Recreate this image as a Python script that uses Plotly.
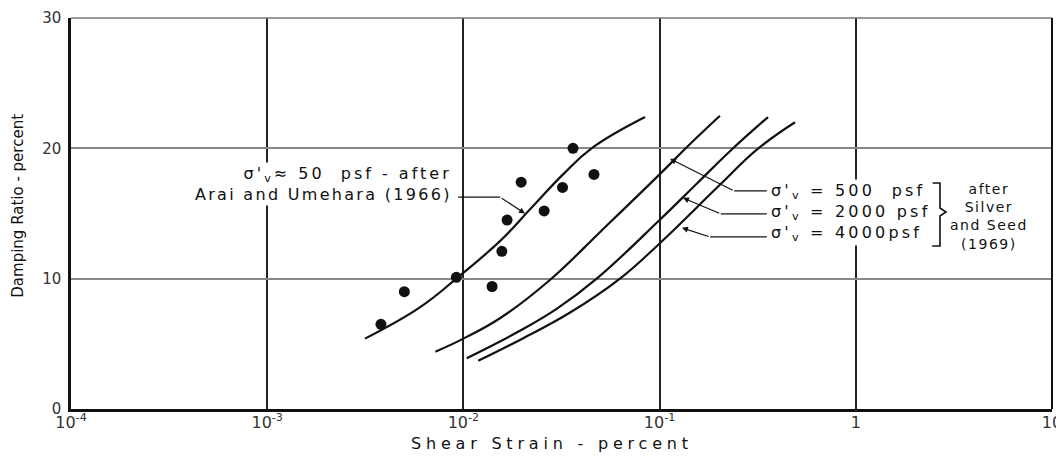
import numpy as np
import plotly.graph_objects as go

# Arai and Umehara (1966) test points, sigma'v ~ 50 psf
pts_strain = [0.0038, 0.0050, 0.0092, 0.0140, 0.0157, 0.0167, 0.0197, 0.0258, 0.0320, 0.0362, 0.0463]
pts_damping = [6.5, 9.0, 10.1, 9.4, 12.1, 14.5, 17.4, 15.2, 17.0, 20.0, 18.0]

# fitted curves
arai_strain = [0.00315, 0.0060, 0.0092, 0.0154, 0.0218, 0.0322, 0.045, 0.0843]
arai_damping = [5.4, 7.8, 10.0, 12.9, 15.3, 18.0, 20.0, 22.4]

s500_strain = [0.0072, 0.0100, 0.0155, 0.0276, 0.0507, 0.100, 0.140, 0.203]
s500_damping = [4.4, 5.4, 7.0, 9.9, 13.7, 18.0, 20.2, 22.5]

s2000_strain = [0.0104, 0.0194, 0.0300, 0.0478, 0.100, 0.155, 0.229, 0.357]
s2000_damping = [3.9, 6.0, 7.7, 10.0, 14.5, 17.3, 19.8, 22.4]

s4000_strain = [0.0119, 0.0194, 0.0350, 0.0628, 0.100, 0.203, 0.313, 0.490]
s4000_damping = [3.7, 5.3, 7.4, 10.0, 12.7, 17.2, 19.9, 22.0]

x_ticks = [1e-4, 1e-3, 1e-2, 1e-1, 1, 10]
x_ticktext = ["10<sup>-4</sup>", "10<sup>-3</sup>", "10<sup>-2</sup>", "10<sup>-1</sup>", "1", "10"]
y_ticks = [0, 10, 20, 30]

FONT = "DejaVu Sans"
INK = "#111111"


def spaced(txt, ls):
    return f'<span style="letter-spacing:{ls}px">{txt}</span>'


fig = go.Figure()

for xs, ys in [(arai_strain, arai_damping), (s500_strain, s500_damping),
               (s2000_strain, s2000_damping), (s4000_strain, s4000_damping)]:
    fig.add_trace(go.Scatter(x=xs, y=ys, mode="lines",
                             line=dict(color=INK, width=2.2, shape="spline", smoothing=1.2),
                             hoverinfo="skip", showlegend=False))

fig.add_trace(go.Scatter(x=pts_strain, y=pts_damping, mode="markers",
                         marker=dict(color=INK, size=11, symbol="circle"),
                         showlegend=False))

# leader lines: (text end, bend, arrow tip)
leaders = [
    ((0.0094, 16.25), (0.0154, 16.25), (0.0206, 15.0)),
    ((0.352, 16.73), (0.240, 16.73), (0.113, 19.2)),
    ((0.352, 14.97), (0.205, 14.97), (0.1315, 16.2)),
    ((0.352, 13.2), (0.181, 13.2), (0.130, 13.9)),
]
for start, bend, tip in leaders:
    fig.add_trace(go.Scatter(x=[start[0], bend[0]], y=[start[1], bend[1]], mode="lines",
                             line=dict(color=INK, width=1.2), hoverinfo="skip", showlegend=False))
    fig.add_annotation(x=np.log10(tip[0]), y=tip[1], ax=np.log10(bend[0]), ay=bend[1],
                       axref="x", ayref="y", xref="x", yref="y", text="", showarrow=True,
                       arrowhead=2, arrowsize=1, arrowwidth=1.2, arrowcolor=INK)

sig = "σ'<sub>v</sub>"
fig.add_annotation(x=np.log10(0.0090), y=17.23, xanchor="right", yanchor="middle", align="right",
                   text=spaced(f"{sig}≈ 50  psf - after", 3.0) + "<br>" + spaced("Arai and Umehara (1966)", 2.3),
                   showarrow=False, bgcolor="white", font=dict(family=FONT, size=16, color=INK))
fig.add_annotation(x=np.log10(0.36), y=15.08, xanchor="left", yanchor="middle", align="left",
                   text="<br>".join(spaced(t, 3.2) for t in
                                    [f"{sig} = 500  psf", f"{sig} = 2000 psf", f"{sig} = 4000psf"]),
                   showarrow=False, bgcolor="white", font=dict(family=FONT, size=16, color=INK))
fig.add_annotation(x=np.log10(4.8), y=14.75, xanchor="center", yanchor="middle", align="center",
                   text="<br>".join(spaced(t, 1.5) for t in ["after", "Silver", "and Seed", "(1969)"]),
                   showarrow=False, font=dict(family=FONT, size=14, color=INK))

# axis titles
fig.add_annotation(x=0.49, y=-0.0895, xref="paper", yref="paper", xanchor="center", yanchor="middle",
                   text=spaced("Shear Strain - percent", 4.8), showarrow=False,
                   font=dict(family=FONT, size=16, color=INK))
fig.add_annotation(x=-0.054, y=0.52, xref="paper", yref="paper", xanchor="center", yanchor="middle",
                   textangle=-90, text="Damping Ratio - percent", showarrow=False,
                   font=dict(family=FONT, size=15, color=INK))


def px(xp, yp):
    return (xp - 71) / 981, (409 - yp) / 391


# bracket
bx = [932, 940, 940, 946, 940, 940, 932]
by = [183, 183, 208, 212, 216, 246, 246]
path = "M " + " L ".join(f"{px(a, b)[0]:.4f} {px(a, b)[1]:.4f}" for a, b in zip(bx, by))
fig.add_shape(type="path", path=path, xref="paper", yref="paper",
              line=dict(color=INK, width=1.6))

# frame: top grey, right black
fig.add_shape(type="line", xref="paper", yref="paper", x0=0, x1=1, y0=1, y1=1,
              line=dict(color="#777777", width=1.6))
fig.add_shape(type="line", xref="paper", yref="paper", x0=1, x1=1, y0=0, y1=1,
              line=dict(color=INK, width=2))

fig.update_xaxes(type="log", range=[-4, 1], tickvals=x_ticks, ticktext=x_ticktext,
                 showgrid=True, gridcolor="#222222", gridwidth=1.5, automargin=False,
                 showline=True, linecolor=INK, linewidth=2.5, ticks="", ticklen=0,
                 ticklabelstandoff=-3,
                 zeroline=False, tickfont=dict(family=FONT, size=16, color="#333333"))
fig.update_yaxes(range=[0, 30], tickvals=y_ticks, showgrid=True, gridcolor="#888888",
                 gridwidth=1.5, showline=True, linecolor=INK, linewidth=2.5, ticks="", ticklen=0,
                 ticklabelstandoff=4, automargin=False,
                 zeroline=False, tickfont=dict(family=FONT, size=15, color="#333333"))

# page body keeps its 8px margin, so the figure is 8px smaller than the window
fig.update_layout(width=1056, height=448, margin=dict(l=63, r=12, t=10, b=47),
                  plot_bgcolor="white", paper_bgcolor="white", showlegend=False,
                  font=dict(family=FONT, color=INK))

fig.write_html("out.html")
